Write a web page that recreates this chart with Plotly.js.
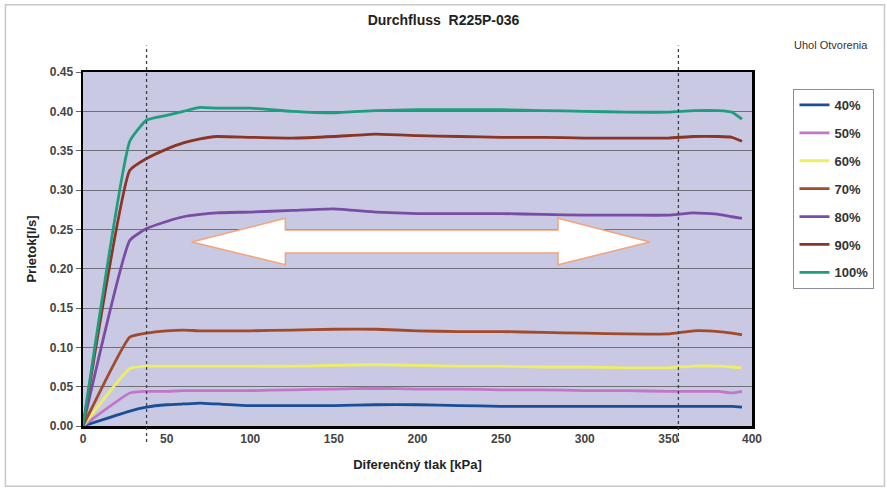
<!DOCTYPE html>
<html>
<head>
<meta charset="utf-8">
<script src="https://cdn.plot.ly/plotly-3.0.1.min.js"></script>
<style>html,body{margin:0;padding:0;background:#fff;}#chart{width:887px;height:489px;}</style>
</head>
<body>
<div id="chart"></div>
<script>
const pressure = [0, 28, 38, 50, 60, 70, 80, 100, 125, 150, 175, 200, 225, 250, 275, 300, 325, 350, 365, 380, 388, 394];
const seriesNames = ["40%", "50%", "60%", "70%", "80%", "90%", "100%"];
const s40 = [0, 0.019, 0.024, 0.027, 0.028, 0.029, 0.028, 0.026, 0.026, 0.026, 0.027, 0.027, 0.026, 0.025, 0.025, 0.025, 0.025, 0.025, 0.025, 0.025, 0.025, 0.024];
const s50 = [0, 0.042, 0.044, 0.044, 0.045, 0.045, 0.045, 0.045, 0.046, 0.047, 0.048, 0.047, 0.047, 0.046, 0.046, 0.045, 0.045, 0.044, 0.044, 0.044, 0.042, 0.044];
const s60 = [0, 0.073, 0.076, 0.076, 0.076, 0.076, 0.076, 0.076, 0.076, 0.077, 0.078, 0.077, 0.076, 0.076, 0.075, 0.075, 0.074, 0.074, 0.076, 0.076, 0.075, 0.074];
const s70 = [0, 0.113, 0.118, 0.121, 0.122, 0.121, 0.121, 0.121, 0.122, 0.123, 0.123, 0.121, 0.120, 0.120, 0.119, 0.118, 0.117, 0.117, 0.121, 0.120, 0.118, 0.116];
const s80 = [0, 0.236, 0.251, 0.260, 0.266, 0.269, 0.271, 0.272, 0.274, 0.276, 0.272, 0.270, 0.270, 0.270, 0.269, 0.268, 0.268, 0.268, 0.271, 0.269, 0.266, 0.264];
const s90 = [0, 0.325, 0.340, 0.352, 0.360, 0.365, 0.368, 0.367, 0.366, 0.368, 0.371, 0.369, 0.368, 0.367, 0.367, 0.366, 0.366, 0.366, 0.368, 0.368, 0.367, 0.362];
const s100 = [0, 0.362, 0.389, 0.395, 0.400, 0.405, 0.404, 0.404, 0.400, 0.398, 0.401, 0.402, 0.402, 0.402, 0.401, 0.400, 0.399, 0.399, 0.401, 0.401, 0.399, 0.390];
const seriesValues = [s40, s50, s60, s70, s80, s90, s100];
const seriesColors = ["#1a4f98", "#c276c8", "#eeee66", "#a24a2c", "#7a4ca6", "#8a3526", "#1f9e7e"];
const markerLines = [38, 356];

const FONT = "Liberation Sans, Arial, sans-serif";
const traces = seriesNames.map((n, i) => ({
  x: pressure, y: seriesValues[i], name: n, type: "scatter", mode: "lines",
  line: {color: seriesColors[i], width: 2.8, shape: "spline", smoothing: 0.4}, legendgroup: n
}));

const shapes = markerLines.map(v => ({
  type: "line", xref: "x", yref: "paper", x0: v, x1: v, y0: -0.045, y1: 1.075,
  line: {color: "#3a3f4a", width: 1.3, dash: "dot"}, layer: "above"
}));
// double arrow
shapes.push({
  type: "path", xref: "x", yref: "y",
  path: "M 65 0.234 L 121 0.264 L 121 0.249 L 284 0.249 L 284 0.264 L 339 0.234 L 284 0.205 L 284 0.220 L 121 0.220 L 121 0.205 Z",
  fillcolor: "#ffffff", line: {color: "#f2a47a", width: 1.5}, layer: "above"
});
// outer frame
shapes.push({type: "rect", xref: "paper", yref: "paper", x0: -0.116, x1: 1.198, y0: -0.17, y1: 1.19,
  line: {color: "#c8c8c8", width: 1.5}, fillcolor: "rgba(0,0,0,0)", layer: "below"});

const layout = {
  width: 887, height: 489,
  margin: {l: 83, r: 135, t: 72, b: 63},
  paper_bgcolor: "#ffffff", plot_bgcolor: "#c9c9e3",
  font: {family: FONT, color: "#333", size: 12},
  title: {text: "Durchfluss  R225P-036", font: {family: FONT, size: 14, weight: "bold", color: "#222"}, x: 0.5, xanchor: "center", y: 0.958, yanchor: "middle"},
  xaxis: {range: [0, 400], dtick: 50, tick0: 0, showgrid: false, zeroline: false,
    showline: true, mirror: true, linecolor: "#000", linewidth: 2.5,
    ticks: "", tickfont: {family: FONT, size: 12, weight: "bold", color: "#444"},
    title: {text: "Diferenčný tlak [kPa]", font: {family: FONT, size: 13, weight: "bold", color: "#222"}, standoff: 15}},
  yaxis: {range: [0, 0.45], dtick: 0.05, tickformat: ".2f", showgrid: true, gridcolor: "#6f6f7a", gridwidth: 1,
    zeroline: false, showline: true, mirror: true, linecolor: "#000", linewidth: 2.5,
    ticks: "outside", ticklen: 5, tickcolor: "#666",
    tickfont: {family: FONT, size: 12, weight: "bold", color: "#444"},
    title: {text: "Prietok[l/s]", font: {family: FONT, size: 13, weight: "bold", color: "#222"}, standoff: 10}},
  legend: {x: 1.062, xanchor: "left", y: 0.952, yanchor: "top", bgcolor: "#ffffff",
    bordercolor: "#8a8f9a", borderwidth: 1, traceorder: "grouped", tracegroupgap: 8,
    font: {family: FONT, size: 13, weight: "bold", color: "#333"}},
  annotations: [{text: "Uhol Otvorenia", xref: "paper", yref: "paper", x: 1.118, y: 1.076, xanchor: "center", yanchor: "middle",
    showarrow: false, font: {family: FONT, size: 11, color: "#333"}}],
  shapes: shapes,
  showlegend: true
};
Plotly.newPlot("chart", traces, layout, {displayModeBar: false, staticPlot: true});
</script>
</body>
</html>
